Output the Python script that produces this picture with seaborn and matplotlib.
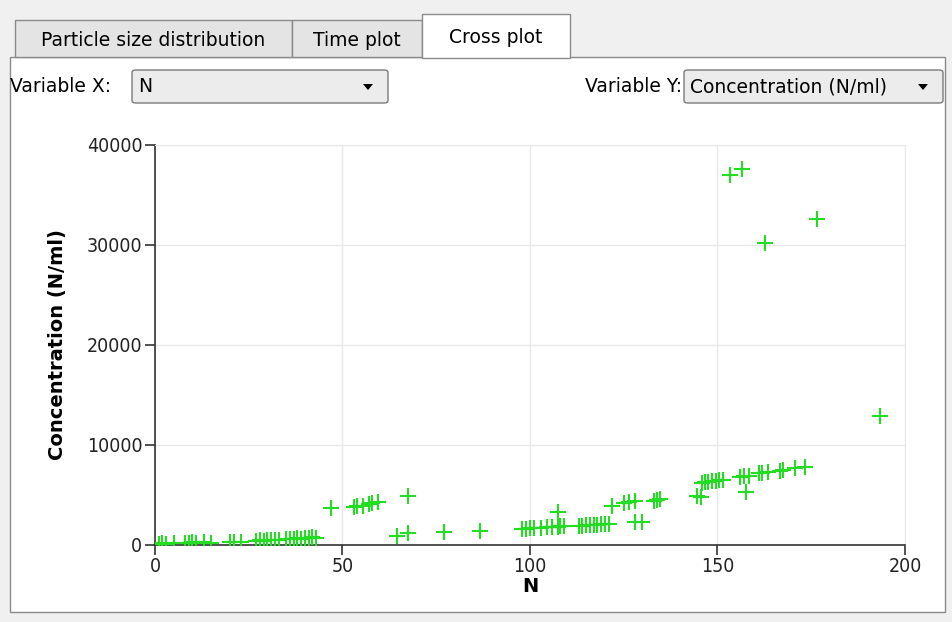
import numpy as np
import pandas as pd
import matplotlib
matplotlib.use("Agg")
import matplotlib.pyplot as plt
from matplotlib.patches import FancyBboxPatch, Rectangle, Polygon
import seaborn as sns

# datos (N, Concentration N/ml)
n_values = [1, 2, 3, 5, 8, 9, 10, 11, 13, 15, 20, 21, 23,
            27, 28, 29, 30, 31, 32, 33, 35, 36, 37, 38, 39, 40, 41, 42, 43,
            47, 53, 54, 55.5, 57, 58, 59.5, 64.5, 67.5, 67.5, 77, 86.7,
            98, 99, 100, 101, 103, 104.5, 106, 107.5, 107.5, 108, 109,
            113, 114, 115, 116, 117, 118, 119, 120, 121, 122,
            125, 126.5, 128, 128, 130, 133, 134, 134.7,
            144.5, 145.5, 146, 146.7, 147.5, 148.5, 149.5, 150.5, 151.5,
            153.3, 156.5, 156, 157, 157.5, 158.5, 161, 162, 162.7, 163.5,
            166.7, 167.5, 170.7, 173.3, 176.5, 193.3]
conc_values = [150, 200, 150, 250, 200, 250, 300, 250, 300, 250, 300, 350, 300,
               450, 500, 450, 500, 550, 500, 550, 600, 650, 600, 700, 650, 700, 750, 800, 750,
               3700, 3800, 3900, 3900, 4100, 4200, 4300, 900, 1200, 4900, 1300, 1400,
               1600, 1650, 1700, 1700, 1750, 1800, 1850, 3300, 1850, 1900, 1900,
               1950, 1950, 2000, 2000, 2050, 2050, 2100, 2100, 2150, 3900,
               4200, 4300, 4400, 2300, 2300, 4400, 4500, 4600,
               4900, 4800, 6200, 6300, 6300, 6400, 6400, 6500, 6500,
               37000, 37600, 6800, 6900, 5300, 6900, 7200, 7200, 30200, 7300,
               7400, 7500, 7700, 7800, 32600, 12900]

tab_labels = ["Particle size distribution", "Time plot", "Cross plot"]
x_ticks = [0, 50, 100, 150, 200]
y_ticks = [0, 10000, 20000, 30000, 40000]

W, H = 953, 622
fig = plt.figure(figsize=(W / 100, H / 100), dpi=100)
fig.patch.set_facecolor("#f0f0f0")
ui_font = ["Liberation Sans Narrow", "DejaVu Sans"]


def px(x, y):
    # pixel -> coordenadas de figura
    return x / W, 1 - y / H


# panel blanco de pestañas (detras del grafico)
fig.patches.append(Rectangle(px(10, 612), 935 / W, 555 / H, transform=fig.transFigure,
                             facecolor="white", edgecolor="#8a8a8a", lw=1, zorder=-2))

# pestañas
tabs = [(15, 292, 20, False), (292, 422, 20, False), (422, 570, 14, True)]
for (x0, x1, y0, sel), lab in zip(tabs, tab_labels):
    fc = "white" if sel else "#e4e4e4"
    bottom = 58 if sel else 57
    fig.patches.append(Rectangle(px(x0, bottom), (x1 - x0) / W, (bottom - y0) / H,
                                 transform=fig.transFigure, facecolor=fc,
                                 edgecolor="#8a8a8a", lw=1, zorder=3))
    fig.text((x0 + x1) / 2 / W, 1 - ((y0 + 57) / 2 + 2) / H, lab, ha="center", va="center",
             fontsize=13.5, family=ui_font, zorder=4)

# combos
def combo(x0, x1, text):
    fig.patches.append(FancyBboxPatch(px(x0, 103), (x1 - x0) / W, 33 / H,
                                      boxstyle="round,pad=0,rounding_size=0.004",
                                      transform=fig.transFigure, facecolor="#ececec",
                                      edgecolor="#7a7a7a", lw=1, zorder=3))
    fig.text((x0 + 6) / W, 1 - 87 / H, text, ha="left", va="center", fontsize=13.5,
             family=ui_font, zorder=4)
    ax_, ay_ = x1 - 20, 87
    fig.patches.append(Polygon([px(ax_ - 5, ay_ - 3), px(ax_ + 5, ay_ - 3), px(ax_, ay_ + 3)],
                               closed=True, transform=fig.transFigure, facecolor="black",
                               edgecolor="none", zorder=4))


fig.text(10 / W, 1 - 87 / H, "Variable X:", ha="left", va="center", fontsize=13.5, family=ui_font)
combo(132, 388, "N")
fig.text(585 / W, 1 - 87 / H, "Variable Y:", ha="left", va="center", fontsize=13.5, family=ui_font)
combo(684, 943, "Concentration (N/ml)")

# grafico de dispersion
df = pd.DataFrame({"N": n_values, "Concentration": conc_values})
ax = fig.add_axes([155 / W, 77 / H, 750 / W, 400 / H])
ax.set_facecolor("white")
sns.scatterplot(data=df, x="N", y="Concentration", marker="+", s=140,
                color="#22dd22", linewidth=1.5, ax=ax, zorder=3)
ax.set_xlim(0, 200)
ax.set_ylim(0, 40000)
ax.set_xticks(x_ticks)
ax.set_yticks(y_ticks)
ax.grid(True, color="#e8e8e8", lw=1)
ax.set_axisbelow(True)
for s in ["top", "right"]:
    ax.spines[s].set_color("#e8e8e8")
for s in ["left", "bottom"]:
    ax.spines[s].set_color("#333333")
    ax.spines[s].set_linewidth(1.2)
ax.tick_params(direction="out", length=7, width=1.2, labelsize=14, colors="#333333",
               labelcolor="#222222", pad=2)
for lab in ax.get_xticklabels() + ax.get_yticklabels():
    lab.set_family(ui_font)
    lab.set_stretch("condensed")
ax.set_xlabel("N", fontsize=14, fontweight="bold", labelpad=0)
ax.set_ylabel("Concentration (N/ml)", fontsize=14, fontweight="bold", labelpad=14)

fig.savefig("out.png", dpi=100, facecolor=fig.get_facecolor())
